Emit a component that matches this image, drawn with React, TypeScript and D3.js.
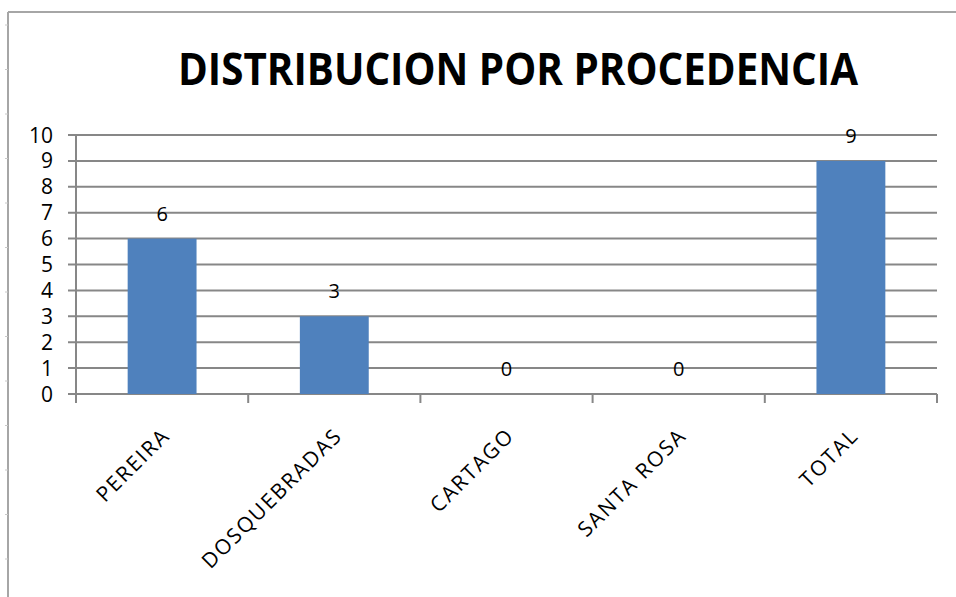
import React from "react";
import * as d3 from "d3";

const categories = ["PEREIRA", "DOSQUEBRADAS", "CARTAGO", "SANTA ROSA", "TOTAL"];
const values = [6, 3, 0, 0, 9];
const yTicks = [0, 1, 2, 3, 4, 5, 6, 7, 8, 9, 10];
const title = "DISTRIBUCION POR PROCEDENCIA";

const W = 956;
const H = 597;
const plot = { left: 76, right: 937, top: 135, bottom: 394 };
const FONT = "'Open Sans', 'DejaVu Sans', sans-serif";

export default function App() {
  const x = d3.scaleBand<string>().domain(categories).range([plot.left, plot.right]).paddingInner(0).paddingOuter(0);
  const y = d3.scaleLinear().domain([0, 10]).range([plot.bottom, plot.top]);
  const barW = x.bandwidth() / 2.5;
  const grid = "#878787";
  const rulerTicks = d3.range(25, 597, 44.5);

  return (
    <svg width={W} height={H} style={{ position: "absolute", left: 0, top: 0, background: "#fff" }}>
      <rect x={0} y={0} width={W} height={H} fill="#fff" />
      {/* outer frame */}
      <line x1={8} y1={12} x2={8} y2={H} stroke="#a6a6a6" strokeWidth={2} />
      <line x1={8} y1={12} x2={W} y2={12} stroke="#a6a6a6" strokeWidth={2} />
      {rulerTicks.map((t, i) => (
        <line key={i} x1={5} x2={8} y1={t} y2={t} stroke="#c8c8c8" strokeWidth={1} />
      ))}
      {/* title */}
      <text x={518} y={85} textAnchor="middle" fontFamily={FONT} fontWeight={700} fontSize={44}
        textLength={680} lengthAdjust="spacingAndGlyphs" fill="#000">{title}</text>
      {/* gridlines + y ticks */}
      {yTicks.map((t) => (
        <g key={t}>
          <line x1={plot.left - 8} x2={plot.right} y1={y(t)} y2={y(t)} stroke={grid} strokeWidth={2} />
          <text x={53} y={y(t)} dy="0.36em" textAnchor="end" fontFamily={FONT} fontSize={21} fill="#000">{t}</text>
        </g>
      ))}
      {/* y axis */}
      <line x1={plot.left} x2={plot.left} y1={plot.top} y2={plot.bottom + 9} stroke={grid} strokeWidth={2} />
      {/* category ticks */}
      {categories.map((c) => (
        <line key={c} x1={x(c)!} x2={x(c)!} y1={plot.bottom} y2={plot.bottom + 9} stroke={grid} strokeWidth={2} />
      ))}
      <line x1={plot.right} x2={plot.right} y1={plot.bottom} y2={plot.bottom + 9} stroke={grid} strokeWidth={2} />
      {/* bars */}
      {categories.map((c, i) => {
        const cx = x(c)! + x.bandwidth() / 2;
        return (
          <g key={c}>
            {values[i] > 0 && (
              <rect x={cx - barW / 2} y={y(values[i])} width={barW} height={y(0) - y(values[i])} fill="#4f81bd" />
            )}
            <text x={cx} y={y(values[i]) - 18} textAnchor="middle" fontFamily={FONT} fontSize={20} fill="#000">{values[i]}</text>
            <text transform={`translate(${cx + 9},${plot.bottom + 43}) rotate(-45)`} textAnchor="end"
              fontFamily={FONT} fontSize={21} letterSpacing={1.8} fill="#000">{c}</text>
          </g>
        );
      })}
    </svg>
  );
}
